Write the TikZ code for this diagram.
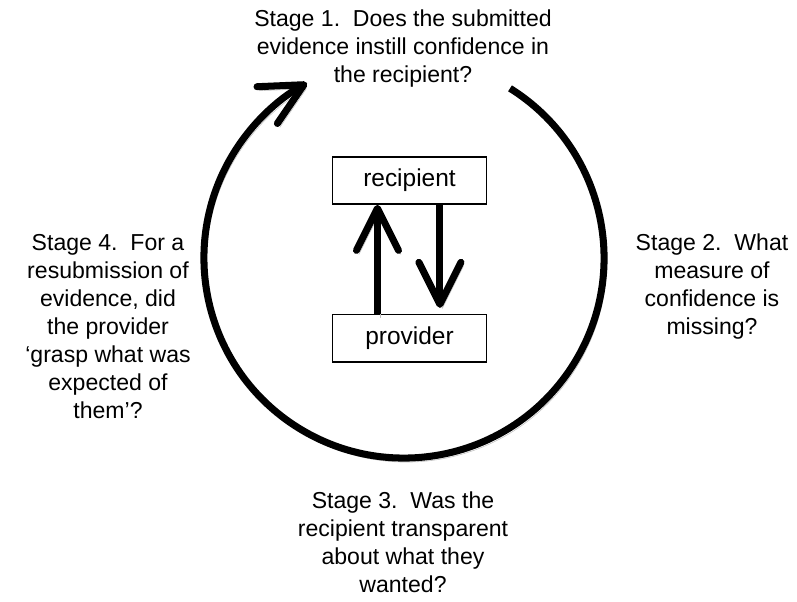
\documentclass[tikz,border=0pt]{standalone}
\usepackage{fontspec}
\setmainfont{Liberation Sans}
\usetikzlibrary{arrows.meta, positioning}

\tikzset{
  stagetext/.style={align=center, inner sep=0pt, font=\fontsize{16.4}{19.9}\selectfont},
  agentbox/.style={draw, line width=1.05pt, minimum width=3.85cm, minimum height=1.18cm, inner sep=0pt, font=\fontsize{17.4}{20}\selectfont},
  loopline/.style={line width=5pt, -{Straight Barb[round, length=1.05cm, width=1.05cm]},
    preaction={draw=black!25, transform canvas={shift={(0.06cm,-0.1cm)}}}},
}

\begin{document}
\begin{tikzpicture}[x=0.025cm, y=0.025cm]
\useasboundingbox (0,0) rectangle (797,-602);

% boxes in the middle
\node[agentbox] (recipient) at (409.5,-180.5) {recipient};
\node[agentbox, below=2.725cm of recipient] (provider) {provider};

% arrows between the boxes
\draw[loopline] ([xshift=-0.8cm]provider.north) -- ([xshift=-0.8cm]provider.north |- recipient.south);
\draw[loopline, shorten >=0.15cm] ([xshift=0.76cm]recipient.south) -- ([xshift=0.76cm]recipient.south |- provider.north);

% the big cycle
\coordinate (hub) at (404,-258);
\draw[loopline] (hub) ++(58:5cm) arc[start angle=58, end angle=-241, radius=5cm];

% stage questions
\node[stagetext] (stageone) at (403,-49) {Stage 1.\ \ Does the submitted\\evidence instill confidence in\\the recipient?};
\node[stagetext] (stagetwo) at (712,-287) {Stage 2.\ \ What\\measure of\\confidence is\\missing?};
\node[stagetext] (stagethree) at (403,-542) {Stage 3.\ \ Was the\\recipient transparent\\about what they\\wanted?};
\node[stagetext] (stagefour) at (108,-327) {Stage 4.\ \ For a\\resubmission of\\evidence, did\\the provider\\‘grasp what was\\expected of\\them’?};
\end{tikzpicture}
\end{document}
